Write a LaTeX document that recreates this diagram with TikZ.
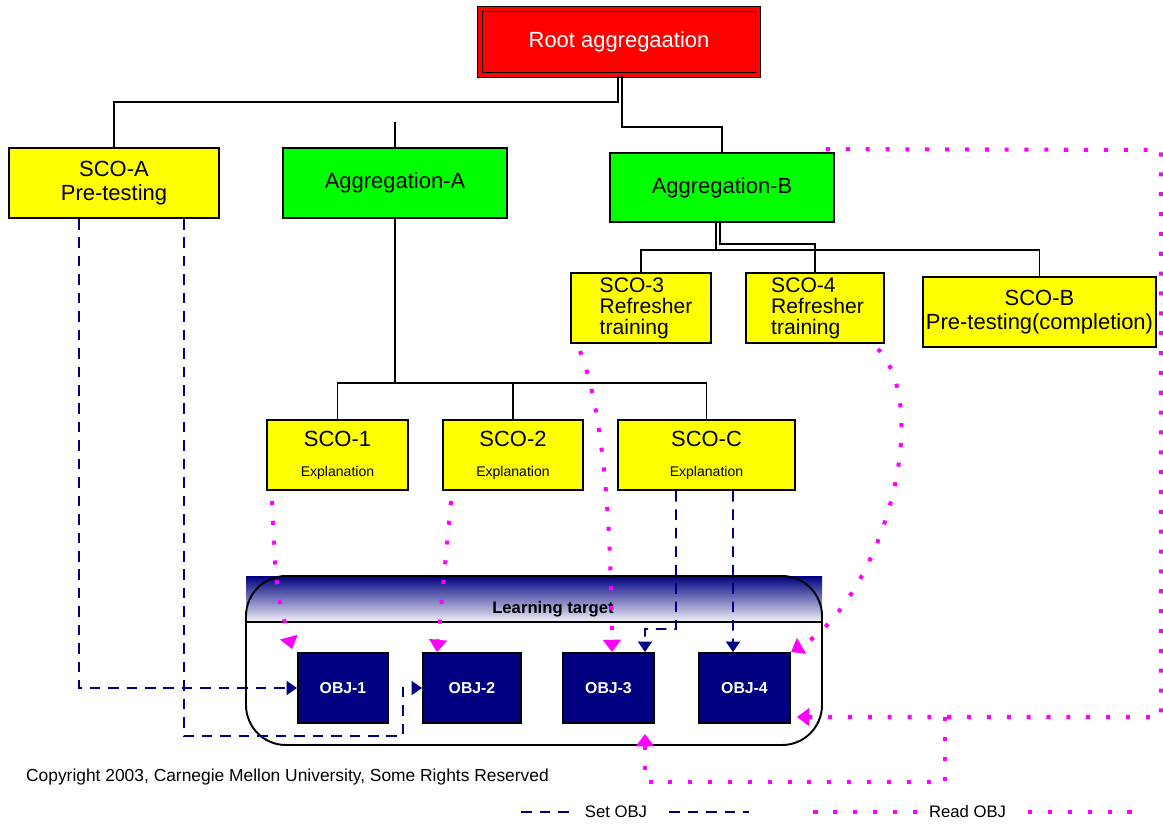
\documentclass[tikz,border=0pt]{standalone}
\usepackage{fontspec}
\setmainfont{Liberation Sans}
\usepackage{tikz}
\usetikzlibrary{positioning}
\usetikzlibrary{calc}
\usetikzlibrary{arrows.meta}
\definecolor{objblue}{HTML}{000080}
\definecolor{readpink}{HTML}{FF00FF}
\definecolor{scoyellow}{HTML}{FFFF00}
\definecolor{agggreen}{HTML}{00FF00}
\tikzset{
  scobox/.style={draw, line width=1.1pt, fill=scoyellow, minimum height=1.4cm, align=center, inner sep=1pt, font=\fontsize{12.5}{14}\selectfont},
  aggbox/.style={scobox, fill=agggreen},
  objbox/.style={draw, line width=1.1pt, fill=objblue, text=white, minimum height=1.4cm, font=\fontsize{9}{10}\selectfont\bfseries},
  tree/.style={line width=1.1pt},
  setobj/.style={objblue, line width=1.1pt, dash pattern=on 6pt off 4.5pt, -{Triangle[width=8pt,length=6pt]}},
  readobj/.style={readpink, line width=2.3pt, dash pattern=on 2.3pt off 9pt, -{Triangle[width=10pt,length=7pt]}},
}
\newcommand{\expl}{\fontsize{8}{9}\selectfont Explanation}

\begin{document}
\begin{tikzpicture}[x=0.02cm,y=-0.02cm]
    \useasboundingbox (0,0) rectangle (1163,823);

    % boxes of the tree
    \node[draw, line width=0.8pt, double=red, double distance=2pt, fill=red, text=white,
          minimum width=5.56cm, minimum height=1.32cm, font=\fontsize{12.5}{14}\selectfont] (root) at (619,42) {Root aggregaation};
    \node[scobox, minimum width=4.2cm] (scoA) at (114,183) {SCO-A\\Pre-testing};
    \node[aggbox, minimum width=4.48cm] (aggA) at (395,183) {Aggregation-A};
    \node[aggbox, minimum width=4.48cm, minimum height=1.38cm] (aggB) at (722,187.5) {Aggregation-B};
    \node[scobox, minimum width=2.8cm, align=left, font=\fontsize{12}{12}\selectfont] (sco3) at (641,308) {\hspace{0.2cm}SCO-3\\\hspace{0.2cm}Refresher\\\hspace{0.2cm}training};
    \node[scobox, minimum width=2.76cm, align=left, font=\fontsize{12}{12}\selectfont] (sco4) at (815,308) {\hspace{0.1cm}SCO-4\\\hspace{0.1cm}Refresher\\\hspace{0.1cm}training};
    \node[scobox, minimum width=4.66cm] (scoB) at (1039.5,312) {SCO-B\\Pre-testing(completion)};
    \node[scobox, minimum width=2.82cm] (sco1) at (337.5,455) {SCO-1\\[3pt]\expl};
    \node[scobox, minimum width=2.8cm] (sco2) at (513,455) {SCO-2\\[3pt]\expl};
    \node[scobox, minimum width=3.54cm] (scoC) at (706.5,455) {SCO-C\\[3pt]\expl};

    % tree lines
    \draw[tree] ([xshift=-0.02cm]root.south) -- ++(0,26) -| (scoA.north);
    \draw[tree] ([xshift=0.06cm]root.south) -- ++(0,51) -| (aggB.north);
    \draw[tree] (aggA.north) -- ++(0,-25);
    \draw[tree] (aggA.south) -- ++(0,164) coordinate (hubA);
    \draw[tree] (sco1.north) |- (hubA) -| (scoC.north);
    \draw[tree] (sco2.north) -- (sco2.north |- hubA);
    \coordinate (hubB) at (716,250);
    \draw[tree] ([xshift=-0.12cm]aggB.south) -- (hubB);
    \draw[tree] (sco3.north) |- (hubB) -| (scoB.north);
    \draw[tree] ([xshift=-0.04cm]aggB.south) -- ++(0,21) -| (sco4.north);

    % learning target
    \shade[top color=objblue, middle color=objblue!45, bottom color=objblue!5] (246,576) rectangle (822,622);
    \draw[line width=1.1pt, rounded corners=0.8cm] (246,576) rectangle (822,745);
    \draw[line width=1.1pt] (246,622) -- (822,622);
    \node[font=\fontsize{9.5}{11}\selectfont\bfseries] (tgtlbl) at (553,609) {Learning target};
    \node[objbox, minimum width=1.8cm] (obj1) at (343,688) {OBJ-1};
    \node[objbox, minimum width=1.96cm] (obj2) at (472,688) {OBJ-2};
    \node[objbox, minimum width=1.82cm] (obj3) at (608.5,688) {OBJ-3};
    \node[objbox, minimum width=1.82cm] (obj4) at (744.5,688) {OBJ-4};

    % set OBJ
    \coordinate (bendA) at (403,736);
    \coordinate (bendC) at (645,629);
    \draw[setobj] ([xshift=-0.7cm]scoA.south) |- (obj1.west);
    \draw[setobj] ([xshift=1.4cm]scoA.south) |- (bendA) |- (obj2.west);
    \draw[setobj] ([xshift=-0.61cm]scoC.south) |- (bendC) -- ([xshift=0.73cm]obj3.north);
    \draw[setobj] ([xshift=0.53cm]scoC.south) -- ([xshift=-0.23cm]obj4.north);

    % read OBJ
    \coordinate (rtop) at (1161,150);
    \coordinate (rbot) at (1161,717);
    \coordinate (rjoin) at (945,717);
    \coordinate (rlow) at (945,782);
    \draw[readobj] ([xshift=-1.31cm,yshift=-0.2cm]sco1.south) .. controls (276,590) .. ([xshift=-0.1cm,yshift=0.06cm]obj1.north west);
    \draw[readobj] ([xshift=-1.24cm,yshift=-0.2cm]sco2.south) -- ([xshift=-0.7cm]obj2.north);
    \draw[readobj] ([xshift=-1.22cm,yshift=-0.14cm]sco3.south) .. controls (603,410) and (611,520) .. ([xshift=0.07cm]obj3.north);
    \draw[readobj] ([xshift=1.26cm,yshift=-0.1cm]sco4.south) .. controls (935,410) and (880,600) .. (obj4.north east);
    \draw[readobj] ([xshift=-0.18cm,yshift=0.06cm]aggB.north east) -- (rtop) -- (rbot) -- ([xshift=0.12cm,yshift=-0.58cm]obj4.east);
    \draw[readobj] (rjoin) -- (rlow) -| ([xshift=0.73cm,yshift=-0.2cm]obj3.south);

    % copyright and legend
    \node[font=\fontsize{9.9}{11}\selectfont] (copy) at (287.5,777) {Copyright 2003, Carnegie Mellon University, Some Rights Reserved};
    \node[font=\fontsize{9.5}{11}\selectfont] (setlbl) at (616,812) {Set OBJ};
    \node[font=\fontsize{9.5}{11}\selectfont] (readlbl) at (967.5,812) {Read OBJ};
    \draw[setobj,-] ([xshift=-0.2cm]setlbl.west) -- ++(-48,0);
    \draw[setobj,-] ([xshift=0.32cm]setlbl.east) -- ++(80,0);
    \draw[readobj,-] ([xshift=-0.12cm]readlbl.west) -- ++(-108,0);
    \draw[readobj,-] ([xshift=0.32cm]readlbl.east) -- ++(104,0);
\end{tikzpicture}
\end{document}
